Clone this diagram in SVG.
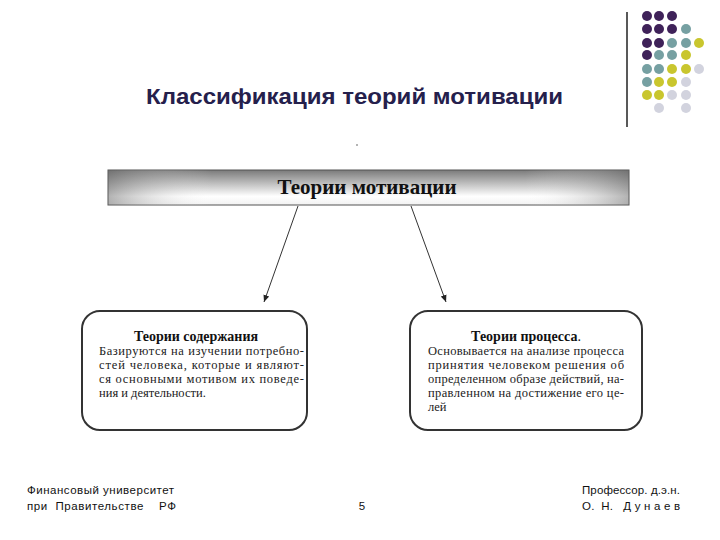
<svg xmlns="http://www.w3.org/2000/svg" width="720" height="540" viewBox="0 0 720 540">
<style>
.p{fill:#3f2259}.t{fill:#76a0a2}.y{fill:#c9c62e}.g{fill:#d2d3de}
.body{font-family:"Liberation Serif","Times New Roman",serif;font-size:12.5px;fill:#222}
.ttl{font-family:"Liberation Serif","Times New Roman",serif;font-size:14px;font-weight:bold;fill:#111}
.ft{font-family:"Liberation Sans",Arial,sans-serif;font-size:11.5px;fill:#111}
.box{fill:#fff;stroke:#333;stroke-width:2}
.conn{stroke:#333;stroke-width:1;fill:none}
</style>
<defs>
<linearGradient id="hg" x1="0" y1="0" x2="0" y2="1">
<stop offset="0" stop-color="#7a7a7a"/>
<stop offset="0.75" stop-color="#ffffff"/>
<stop offset="1" stop-color="#f2f2f2"/>
</linearGradient>
<linearGradient id="hh" x1="0" y1="0" x2="1" y2="0">
<stop offset="0" stop-color="#666" stop-opacity="0.5"/>
<stop offset="0.2" stop-color="#fff" stop-opacity="0"/>
<stop offset="0.8" stop-color="#fff" stop-opacity="0"/>
<stop offset="1" stop-color="#666" stop-opacity="0.5"/>
</linearGradient>
<marker id="ah" markerWidth="8" markerHeight="8" refX="7" refY="4" orient="auto" markerUnits="userSpaceOnUse">
<path d="M0,1 L7,4 L0,7 z" fill="#222"/>
</marker>
</defs>
<rect width="720" height="540" fill="#fff"/>
<g id="decor">
<line x1="627" y1="12" x2="627" y2="127" stroke="#222" stroke-width="1.5"/>
<circle class="p" cx="647" cy="16" r="5"/><circle class="p" cx="659" cy="16" r="5"/><circle class="p" cx="672" cy="16" r="5"/>
<circle class="p" cx="647" cy="29" r="5"/><circle class="p" cx="659" cy="29" r="5"/><circle class="p" cx="672" cy="29" r="5"/><circle class="t" cx="686" cy="29" r="5"/>
<circle class="p" cx="647" cy="43" r="5"/><circle class="p" cx="659" cy="43" r="5"/><circle class="t" cx="672" cy="43" r="5"/><circle class="t" cx="686" cy="43" r="5"/><circle class="y" cx="699" cy="43" r="5"/>
<circle class="p" cx="647" cy="55" r="5"/><circle class="t" cx="659" cy="55" r="5"/><circle class="t" cx="672" cy="55" r="5"/><circle class="y" cx="686" cy="55" r="5"/>
<circle class="t" cx="647" cy="69" r="5"/><circle class="t" cx="659" cy="69" r="5"/><circle class="y" cx="672" cy="69" r="5"/><circle class="y" cx="686" cy="69" r="5"/><circle class="g" cx="699" cy="69" r="5"/>
<circle class="t" cx="647" cy="82" r="5"/><circle class="y" cx="659" cy="82" r="5"/><circle class="y" cx="672" cy="82" r="5"/><circle class="g" cx="686" cy="82" r="5"/>
<circle class="y" cx="647" cy="95" r="5"/><circle class="y" cx="659" cy="95" r="5"/><circle class="g" cx="672" cy="95" r="5"/><circle class="g" cx="686" cy="95" r="5"/>
<circle class="g" cx="659" cy="108" r="5"/><circle class="g" cx="686" cy="108" r="5"/>
</g>
<text x="146" y="104" textLength="417" lengthAdjust="spacingAndGlyphs" font-family="Liberation Sans,Arial,sans-serif" font-size="22" font-weight="bold" fill="#25204c">Классификация теорий мотивации</text>
<circle cx="357" cy="145" r="0.8" fill="#555"/>
<g id="connectors">
<line class="conn" x1="298" y1="206" x2="264" y2="302" marker-end="url(#ah)"/>
<line class="conn" x1="411" y1="206" x2="446" y2="302" marker-end="url(#ah)"/>
</g>
<g id="header">
<rect x="108" y="170" width="521" height="35" fill="url(#hg)" stroke="#555" stroke-width="1"/>
<rect x="108" y="170" width="521" height="35" fill="url(#hh)"/>
<text x="367" y="194" text-anchor="middle" font-family="Liberation Serif,Times New Roman,serif" font-size="21" font-weight="bold" fill="#111">Теории мотивации</text>
</g>
<g id="content">
<rect class="box" x="82" y="311" width="225" height="119" rx="18"/>
<text class="ttl" x="196" y="341" text-anchor="middle">Теории содержания</text>
<text class="body" x="99" y="355" textLength="205" lengthAdjust="spacing">Базируются  на изучении потребно-</text>
<text class="body" x="99" y="369" textLength="205" lengthAdjust="spacing">стей человека, которые и являют-</text>
<text class="body" x="99" y="383" textLength="205" lengthAdjust="spacing">ся основными мотивом их поведе-</text>
<text class="body" x="99" y="397">ния и деятельности.</text>
</g>
<g id="process">
<rect class="box" x="410" y="311" width="232" height="119" rx="18"/>
<text class="ttl" x="526" y="341" text-anchor="middle">Теории процесса<tspan font-weight="normal">.</tspan></text>
<text class="body" x="428" y="355" textLength="196" lengthAdjust="spacing">Основывается на анализе процесса</text>
<text class="body" x="428" y="369" textLength="196" lengthAdjust="spacing">принятия человеком решения об</text>
<text class="body" x="428" y="383" textLength="196" lengthAdjust="spacing">определенном образе действий, на-</text>
<text class="body" x="428" y="397" textLength="196" lengthAdjust="spacing">правленном на достижение его це-</text>
<text class="body" x="428" y="411">лей</text>
</g>
<g id="footer">
<text class="ft" x="27" y="494" textLength="147" lengthAdjust="spacing">Финансовый  университет</text>
<text class="ft" x="27" y="510" xml:space="preserve" textLength="149" lengthAdjust="spacing">при  Правительстве    РФ</text>
<text class="ft" x="362" y="510" text-anchor="middle">5</text>
<text class="ft" x="582" y="494" textLength="98" lengthAdjust="spacing">Профессор. д.э.н.</text>
<text class="ft" x="582" y="510" xml:space="preserve" textLength="98" lengthAdjust="spacing">О.  Н.   Д у н а е в</text>
</g>
</svg>
